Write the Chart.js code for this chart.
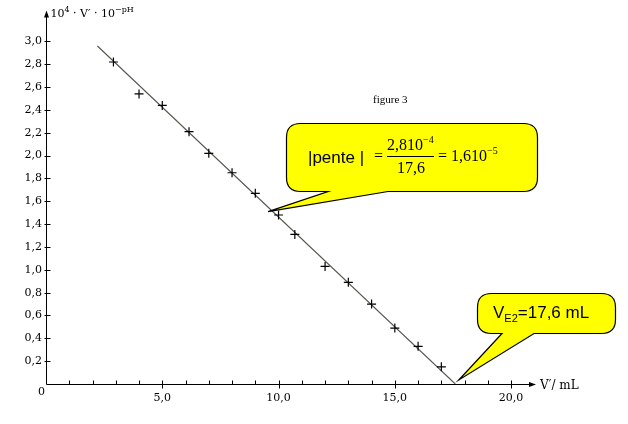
<!DOCTYPE html>
<html>
<head>
<meta charset="utf-8">
<script src="https://cdn.jsdelivr.net/npm/chart.js@4/dist/chart.umd.min.js"></script>
<style>
  html, body { margin: 0; padding: 0; background: #fff; }
  canvas { display: block; }
</style>
</head>
<body>
<canvas id="chart" width="628" height="424"></canvas>
<script>
// ── Data ───────────────────────────────────────────────────────────
const volumes = [2.9, 4.0, 5.0, 6.15, 7.0, 8.0, 9.0, 10.0, 10.7, 12.0, 13.0, 14.0, 15.0, 16.0, 17.0];
const values  = [2.82, 2.54, 2.44, 2.21, 2.02, 1.85, 1.67, 1.48, 1.31, 1.03, 0.89, 0.70, 0.49, 0.33, 0.15];

// fitted straight line (ends)
const fitX = [2.21, 17.6];
const fitY = [2.96, 0];

// callout anchor points (data coords)
const slopeTip = [9.55, 1.51];
const veTip = [17.75, 0.035];

const xMax = 21.07;
const yMax = 3.27;
const xMajor = [5, 10, 15, 20];

const SERIF = '"DejaVu Serif", serif';

function fmt(v) { return v.toFixed(1).replace(".", ","); }

// draws a list of text runs one after the other, returns end x
function drawRuns(ctx, x, y, runs) {
  runs.forEach(function (r) {
    ctx.font = r.font;
    ctx.fillText(r.t, x, y + (r.dy || 0));
    x += ctx.measureText(r.t).width;
  });
  return x;
}

function callout(ctx, box, baseL, baseR, tip) {
  const r = 14;
  const l = box[0], t = box[1], rt = box[2], b = box[3];
  ctx.beginPath();
  ctx.moveTo(l + r, t);
  ctx.lineTo(rt - r, t);
  ctx.quadraticCurveTo(rt, t, rt, t + r);
  ctx.lineTo(rt, b - r);
  ctx.quadraticCurveTo(rt, b, rt - r, b);
  ctx.lineTo(baseR, b);
  ctx.lineTo(tip[0], tip[1]);
  ctx.lineTo(baseL, b);
  ctx.lineTo(l + r, b);
  ctx.quadraticCurveTo(l, b, l, b - r);
  ctx.lineTo(l, t + r);
  ctx.quadraticCurveTo(l, t, l + r, t);
  ctx.closePath();
  ctx.fillStyle = "#ffff00";
  ctx.fill();
  ctx.strokeStyle = "#000";
  ctx.lineWidth = 1.2;
  ctx.stroke();
}

// ── Axes, titles and callouts ──────────────────────────────────────
const decorPlugin = {
  id: "decor",
  afterDraw: function (chart) {
    const ctx = chart.ctx;
    const xs = chart.scales.x, ys = chart.scales.y;
    const x0 = Math.round(xs.getPixelForValue(0)) + 0.5;
    const y0 = Math.round(ys.getPixelForValue(0)) + 0.5;
    const xEnd = xs.getPixelForValue(xMax);
    const yTop = ys.getPixelForValue(yMax);

    ctx.save();
    ctx.strokeStyle = "#000";
    ctx.fillStyle = "#000";
    ctx.lineWidth = 1;

    // axis lines
    ctx.beginPath();
    ctx.moveTo(x0, y0); ctx.lineTo(xEnd - 2, y0);
    ctx.moveTo(x0, y0); ctx.lineTo(x0, yTop + 2);
    ctx.stroke();
    // arrows
    ctx.beginPath();
    ctx.moveTo(xEnd, y0); ctx.lineTo(xEnd - 7, y0 - 2.5); ctx.lineTo(xEnd - 7, y0 + 2.5);
    ctx.closePath(); ctx.fill();
    ctx.beginPath();
    ctx.moveTo(x0, yTop); ctx.lineTo(x0 - 2.5, yTop + 7); ctx.lineTo(x0 + 2.5, yTop + 7);
    ctx.closePath(); ctx.fill();

    // x ticks (every 1 mL, major ones cross the axis)
    ctx.beginPath();
    for (let v = 1; v <= 20; v++) {
      const px = Math.round(xs.getPixelForValue(v)) + 0.5;
      const major = xMajor.indexOf(v) >= 0;
      ctx.moveTo(px, y0 - 4);
      ctx.lineTo(px, y0 + (major ? 4 : 0));
    }
    // y ticks every 0.2
    for (let k = 1; k <= 15; k++) {
      const py = Math.round(ys.getPixelForValue(k * 0.2)) + 0.5;
      ctx.moveTo(x0 - 2, py);
      ctx.lineTo(x0 + 4, py);
    }
    ctx.stroke();

    // origin label
    ctx.font = "11px " + SERIF;
    ctx.textAlign = "center";
    ctx.textBaseline = "alphabetic";
    ctx.fillText("0", x0 - 5, y0 + 10);
    ctx.textAlign = "left";

    // axis titles
    drawRuns(ctx, x0 + 4, 17, [
      { t: "10", font: "11px " + SERIF },
      { t: "4", font: "8px " + SERIF, dy: -5 },
      { t: " · V′ · 10", font: "11px " + SERIF },
      { t: "−pH", font: "8px " + SERIF, dy: -5 }
    ]);
    ctx.font = "12px " + SERIF;
    ctx.fillText("V′/ mL", xEnd + 4, y0 + 4);

    ctx.font = "11px \"Liberation Serif\", serif";
    ctx.fillText("figure 3", 373, 103);

    // slope callout
    callout(ctx, [286.5, 123.5, 537.5, 191.5], 328, 388,
      [xs.getPixelForValue(slopeTip[0]), ys.getPixelForValue(slopeTip[1])]);
    ctx.fillStyle = "#000";
    ctx.font = "17px \"Liberation Sans\", sans-serif";
    ctx.fillText("|pente |", 308, 163);
    ctx.font = "16px \"Liberation Serif\", serif";
    ctx.fillText("=", 374, 161);
    drawRuns(ctx, 387, 150, [
      { t: "2,810", font: "16px \"Liberation Serif\", serif" },
      { t: "−4", font: "10px \"Liberation Serif\", serif", dy: -7 }
    ]);
    ctx.beginPath();
    ctx.moveTo(387, 156.5); ctx.lineTo(434, 156.5);
    ctx.lineWidth = 1; ctx.stroke();
    ctx.font = "16px \"Liberation Serif\", serif";
    ctx.fillText("17,6", 397, 173);
    drawRuns(ctx, 438, 161, [
      { t: "= 1,610", font: "16px \"Liberation Serif\", serif" },
      { t: "−5", font: "10px \"Liberation Serif\", serif", dy: -7 }
    ]);

    // equivalence callout
    callout(ctx, [477.5, 293.5, 615.5, 333.5], 502, 534,
      [xs.getPixelForValue(veTip[0]), ys.getPixelForValue(veTip[1])]);
    ctx.fillStyle = "#000";
    drawRuns(ctx, 493, 318, [
      { t: "V", font: "17px \"Liberation Sans\", sans-serif" },
      { t: "E2", font: "11px \"Liberation Sans\", sans-serif", dy: 4 },
      { t: "=17,6 mL", font: "17px \"Liberation Sans\", sans-serif" }
    ]);

    ctx.restore();
  }
};

// ── Chart ──────────────────────────────────────────────────────────
const points = volumes.map(function (v, i) { return { x: v, y: values[i] }; });
const fitLine = fitX.map(function (v, i) { return { x: v, y: fitY[i] }; });

new Chart(document.getElementById("chart").getContext("2d"), {
  type: "scatter",
  data: {
    datasets: [
      {
        type: "line",
        data: fitLine,
        borderColor: "#55554a",
        borderWidth: 1.1,
        pointRadius: 0,
        fill: false,
        order: 2
      },
      {
        data: points,
        pointStyle: "cross",
        pointRadius: 4.5,
        borderColor: "#000",
        borderWidth: 1.2,
        order: 1
      }
    ]
  },
  options: {
    responsive: false,
    animation: false,
    devicePixelRatio: 1,
    layout: { padding: { top: 8, right: 92, left: 0, bottom: 0 } },
    plugins: { legend: { display: false }, tooltip: { enabled: false } },
    scales: {
      x: {
        type: "linear",
        min: 0,
        max: xMax,
        grid: { display: false, drawTicks: false },
        border: { display: false },
        ticks: {
          stepSize: 1,
          autoSkip: false,
          maxRotation: 0,
          padding: 8,
          color: "#000",
          font: { family: SERIF, size: 11 },
          callback: function (v) { return xMajor.indexOf(v) >= 0 ? fmt(v) : ""; }
        },
        afterFit: function (s) { s.height = 40; }
      },
      y: {
        type: "linear",
        min: 0,
        max: yMax,
        grid: { display: false, drawTicks: false },
        border: { display: false },
        ticks: {
          stepSize: 0.2,
          autoSkip: false,
          padding: 4,
          color: "#000",
          font: { family: SERIF, size: 11 },
          callback: function (v) { return (v > 0.05 && v < 3.05) ? fmt(v) : ""; }
        },
        afterFit: function (s) { s.width = 46; }
      }
    }
  },
  plugins: [decorPlugin]
});
</script>
</body>
</html>
